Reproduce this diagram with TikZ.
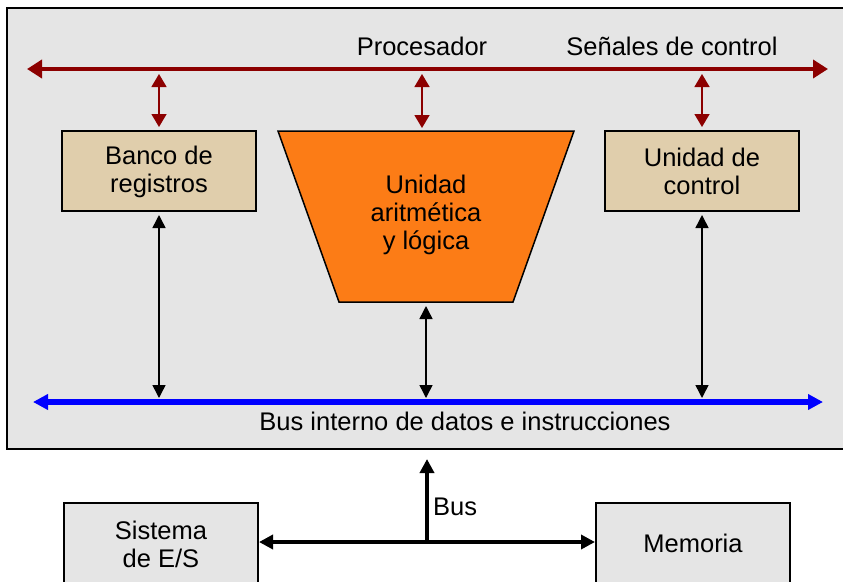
\documentclass[tikz,border=0pt]{standalone}
\usepackage{fontspec}
\setmainfont{Liberation Sans}
\usetikzlibrary{arrows.meta}
\definecolor{bgc}{RGB}{229,229,229}
\definecolor{tanc}{RGB}{224,206,172}
\definecolor{orangec}{RGB}{252,124,22}
\definecolor{redc}{RGB}{140,0,0}
\definecolor{bluec}{RGB}{0,0,255}
\tikzset{
  lbl/.style={font=\fontsize{25.5}{28}\selectfont, align=center, inner sep=0pt},
  tanbox/.style={draw=black, line width=2pt, fill=tanc, minimum width=194pt, minimum height=80pt, lbl},
  graybox/.style={draw=black, line width=2pt, fill=bgc, minimum width=194pt, minimum height=100pt, lbl},
  redbar/.style={draw=redc, line width=4.5pt, {Triangle[length=15pt,width=18pt]}-{Triangle[length=15pt,width=18pt]}},
  redlink/.style={draw=redc, line width=1.5pt, {Triangle[length=13pt,width=15pt]}-{Triangle[length=13pt,width=15pt]}},
  blacklink/.style={draw=black, line width=1.5pt, {Triangle[length=13pt,width=13pt]}-{Triangle[length=13pt,width=13pt]}},
  bluebar/.style={draw=bluec, line width=5.5pt, {Triangle[length=15pt,width=15pt]}-{Triangle[length=15pt,width=15pt]}},
  extarrow/.style={draw=black, line width=3.5pt, -{Triangle[length=14pt,width=14pt]}},
}
\begin{document}
\begin{tikzpicture}[x=1pt,y=-1pt]
\useasboundingbox (0,0) rectangle (843,581);
\clip (0,0) rectangle (843,581);
% processor frame
\draw[line width=2pt, fill=bgc] (7,8) rectangle (848,449);
% labels
\node[lbl] (proc) at (422,46) {Procesador};
\node[lbl] (senal) at (672,46) {Señales de control};
% control bus
\coordinate (cl) at (27,69);
\coordinate (cr) at (828,69);
\draw[redbar] (cl) -- (cr);
% units
\node[tanbox] (banco) at (159,171) {};
\node[lbl] (bancot) at (159,172) {Banco de\\registros};
\node[tanbox] (uc) at (702,171) {};
\node[lbl] (uct) at (702,171) {Unidad de\\control};
\draw[line width=1.5pt, fill=orangec] (278,131) -- (574,131) -- (513,302) -- (339,302) -- cycle;
\node[lbl] (alu) at (426,215) {Unidad\\aritmética\\y lógica};
\coordinate (alutop) at (422,131);
\coordinate (alubot) at (426,302);
% links to control bus
\coordinate (c1) at (159,69);
\coordinate (c2) at (422,69);
\coordinate (c3) at (702,69);
\draw[redlink, shorten <=5pt, shorten >=3pt] (c1) -- (banco.north);
\draw[redlink, shorten <=5pt, shorten >=3pt] (c2) -- (alutop);
\draw[redlink, shorten <=5pt, shorten >=3pt] (c3) -- (uc.north);
% internal bus
\coordinate (bl) at (33,402);
\coordinate (br) at (823,402);
\draw[bluebar] (bl) -- (br);
\node[lbl] (busint) at (465,421) {Bus interno de datos e instrucciones};
\draw[blacklink, shorten <=3pt, shorten >=4pt] (banco.south) -- (banco.south |- bl);
\draw[blacklink, shorten <=4pt, shorten >=4pt] (alubot) -- (alubot |- bl);
\draw[blacklink, shorten <=3pt, shorten >=4pt] (uc.south) -- (uc.south |- bl);
% external
\node[graybox] (es) at (161,553) {};
\node[lbl] (est) at (161,544) {Sistema\\de E/S};
\node[graybox] (mem) at (693,553) {};
\node[lbl] (memt) at (693,543) {Memoria};
\coordinate (j) at (427,542);
\coordinate (top) at (427,449);
\draw[extarrow, shorten >=10pt] (j) -- (top);
\draw[extarrow] (j) -- (es.east |- j);
\draw[extarrow] (j) -- (mem.west |- j);
\node[lbl, anchor=west] (buslbl) at (433,507) {Bus};
\end{tikzpicture}
\end{document}
